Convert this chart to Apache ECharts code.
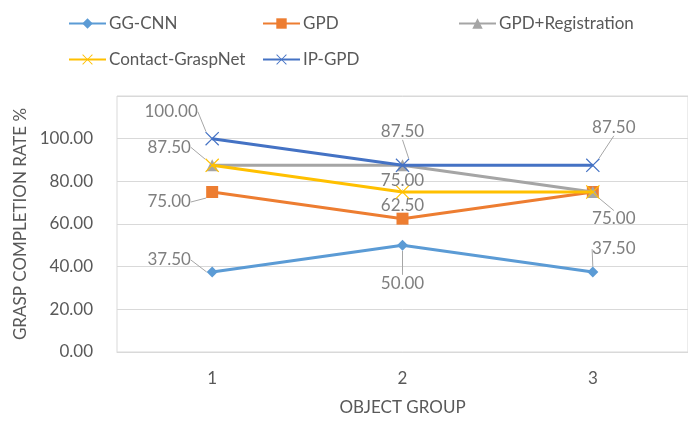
<!DOCTYPE html>
<html>
<head>
<meta charset="utf-8">
<script src="https://cdn.jsdelivr.net/npm/echarts@6/dist/echarts.min.js"></script>
<style>
html,body{margin:0;padding:0;background:#fff;}
#chart{width:688px;height:421px;}
</style>
</head>
<body>
<div id="chart"></div>
<script>
// ---- data ----
var categories = ['1', '2', '3'];
var seriesNames = ['GG-CNN', 'GPD', 'GPD+Registration', 'Contact-GraspNet', 'IP-GPD'];
var ggcnn = [37.5, 50, 37.5];
var gpd = [75, 62.5, 75];
var gpdReg = [87.5, 87.5, 75];
var contact = [87.5, 75, 75];
var ipgpd = [100, 87.5, 87.5];
var yTicks = [0, 20, 40, 60, 80, 100, 120];
var xTitle = 'OBJECT GROUP';
var yTitle = 'GRASP COMPLETION RATE %';

// ---- styling ----
var colors = ['#5B9BD5', '#ED7D31', '#A5A5A5', '#FFC000', '#4472C4'];
var xPath = 'path://M0,0.6L0.6,0L5,4.4L9.4,0L10,0.6L5.6,5L10,9.4L9.4,10L5,5.6L0.6,10L0,9.4L4.4,5Z';
var symbols = ['diamond', 'rect', 'triangle', xPath, xPath];
var symbolSizes = [11, 12, 12, 14, 14];
// label offsets (dx, dy) per series per point; null = no label
var labelOffsets = [
  [[-43, -12], [0, 38], [21, -23]],
  [[-43, 10], [0, -13], [21, 27]],
  [null, null, null],
  [[-43, -18], [0, -11], null],
  [[-41, -27], [0, -34], [21, -38]]
];
var FONT = 'Lato';

var values = [ggcnn, gpd, gpdReg, contact, ipgpd];

var series = seriesNames.map(function (name, si) {
  return {
    name: name,
    type: 'line',
    data: values[si].map(function (v, di) {
      var show = labelOffsets[si][di] !== null;
      return { value: v, label: { show: show } };
    }),
    symbol: symbols[si],
    symbolSize: symbolSizes[si],
    lineStyle: { width: 3, color: colors[si] },
    itemStyle: { color: colors[si] },
    z: 2 + si,
    label: {
      position: 'inside',
      fontFamily: FONT,
      fontSize: 17,
      color: '#7F7F7F',
      formatter: function (p) { return p.value.toFixed(2); }
    },
    labelLine: { show: true, lineStyle: { color: '#A6A6A6', width: 1 } },
    labelLayout: function (p) {
      var off = labelOffsets[p.seriesIndex] && labelOffsets[p.seriesIndex][p.dataIndex];
      if (!off) return {};
      return { dx: off[0], dy: off[1] };
    },
    animation: false
  };
});

var legendPos = [[63, 10], [257, 10], [453, 10], [63, 46], [257, 46]];
var legends = seriesNames.map(function (name, i) {
  return {
    data: [name],
    left: legendPos[i][0],
    top: legendPos[i][1],
    itemWidth: 37,
    itemHeight: 13,
    itemGap: 3,
    textStyle: { fontFamily: FONT, fontSize: 17, color: '#595959', padding: [0, 0, 0, -2] },
    selectedMode: false
  };
});

var chart = echarts.init(document.getElementById('chart'));
chart.setOption({
  animation: false,
  legend: legends,
  grid: { left: 117, right: -7, top: 96, bottom: 65, show: true, borderColor: '#D9D9D9', borderWidth: 1, containLabel: false },
  xAxis: {
    type: 'category',
    data: categories,
    boundaryGap: true,
    name: xTitle,
    nameLocation: 'middle',
    nameGap: 47,
    nameTextStyle: { fontFamily: FONT, fontSize: 17, color: '#595959' },
    axisLine: { show: true, lineStyle: { color: '#D9D9D9', width: 1 } },
    axisTick: { show: false },
    axisLabel: { fontFamily: FONT, fontSize: 17, color: '#595959', margin: 18 },
    splitLine: { show: false }
  },
  yAxis: {
    type: 'value',
    min: yTicks[0],
    max: yTicks[yTicks.length - 1],
    interval: yTicks[1] - yTicks[0],
    name: yTitle,
    nameLocation: 'middle',
    nameGap: 86,
    nameTextStyle: { fontFamily: FONT, fontSize: 17, color: '#595959' },
    axisLine: { show: false },
    axisTick: { show: false },
    axisLabel: {
      fontFamily: FONT, fontSize: 17, color: '#595959', margin: 24,
      formatter: function (v) { return v === yTicks[yTicks.length - 1] ? '' : v.toFixed(2); }
    },
    splitLine: { show: true, lineStyle: { color: '#D9D9D9', width: 1 } }
  },
  series: series
});
</script>
</body>
</html>
